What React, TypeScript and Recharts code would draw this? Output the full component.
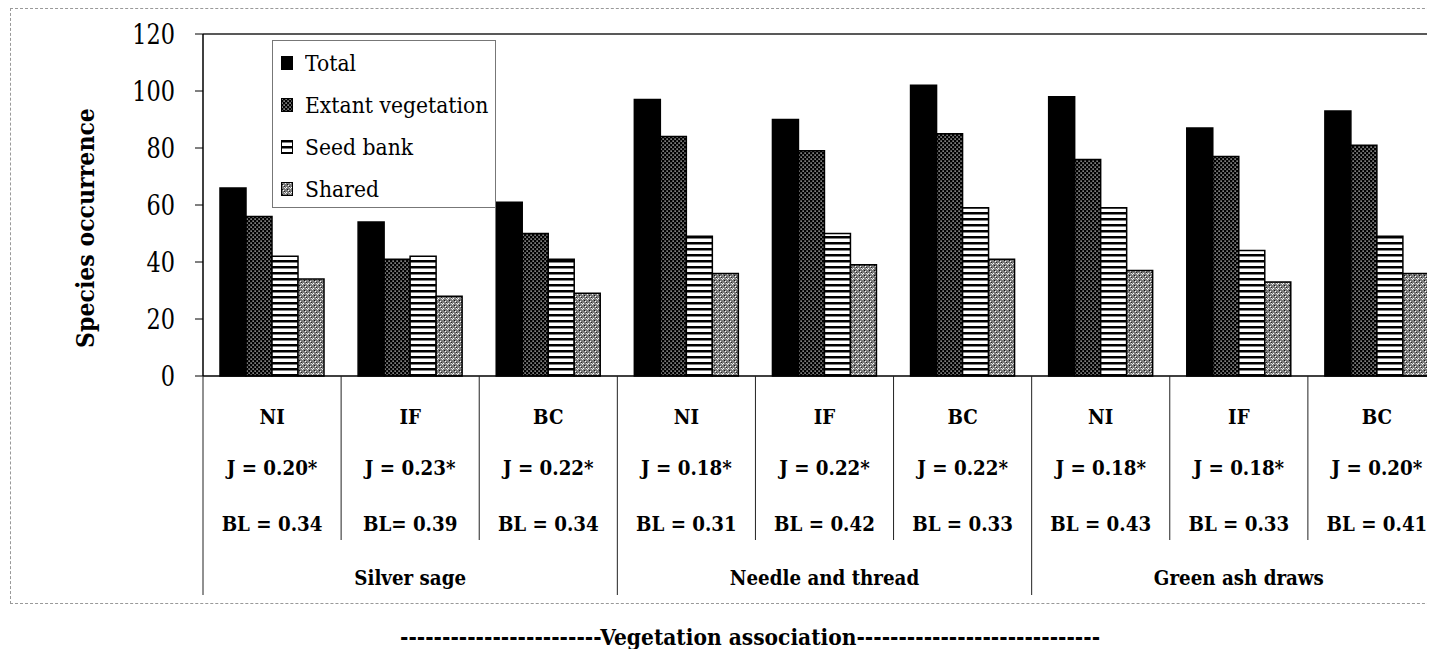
import React from "react";
import { BarChart, Bar, XAxis, YAxis, Legend, ReferenceLine, Label } from "recharts";

// categories and table rows under the axis
const treatments = ["NI", "IF", "BC", "NI", "IF", "BC", "NI", "IF", "BC"];
const jaccard = ["J = 0.20*", "J = 0.23*", "J = 0.22*", "J = 0.18*", "J = 0.22*", "J = 0.22*", "J = 0.18*", "J = 0.18*", "J = 0.20*"];
const bl = ["BL = 0.34", "BL= 0.39", "BL = 0.34", "BL = 0.31", "BL = 0.42", "BL = 0.33", "BL = 0.43", "BL = 0.33", "BL = 0.41"];
const associations = ["Silver sage", "Needle and thread", "Green ash draws"];

// series values (species occurrence)
const total = [66, 54, 61, 97, 90, 102, 98, 87, 93];
const extant = [56, 41, 50, 84, 79, 85, 76, 77, 81];
const seedBank = [42, 42, 41, 49, 50, 59, 59, 44, 49];
const shared = [34, 28, 29, 36, 39, 41, 37, 33, 36];

const yTicks = [0, 20, 40, 60, 80, 100, 120];

const series = [
  { key: "total", name: "Total", fill: "#000" },
  { key: "extant", name: "Extant vegetation", fill: "url(#pExtant)" },
  { key: "seedBank", name: "Seed bank", fill: "url(#pSeed)" },
  { key: "shared", name: "Shared", fill: "url(#pShared)" },
];

const data = treatments.map((t, i) => ({
  key: i,
  treatment: t,
  j: jaccard[i],
  bl: bl[i],
  group: associations[Math.floor(i / 3)],
  total: total[i],
  extant: extant[i],
  seedBank: seedBank[i],
  shared: shared[i],
}));

// only serif face available is DejaVu Serif; squeeze it horizontally to look like Times
const FONT = "'DejaVu Serif', serif";
const W = 1440;
const H = 640;
const MARGIN = { top: 26, right: 2, left: 75, bottom: 0 };
const Y_AXIS_W = 120;
const X_AXIS_H = 272;
const BAND = (W - MARGIN.left - MARGIN.right - Y_AXIS_W) / treatments.length;

function SText(props: any) {
  const { x, y, size, bold, sx, anchor = "middle", rotate = 0, children } = props;
  return (
    <text
      transform={`translate(${x}, ${y}) rotate(${rotate}) scale(${sx}, 1)`}
      textAnchor={anchor}
      dominantBaseline="central"
      fontFamily={FONT}
      fontWeight={bold ? 700 : 400}
      fontSize={size}
      fill="#000"
    >
      {children}
    </text>
  );
}

function CategoryTick(props: any) {
  const { x, y, payload } = props;
  const row = data[payload.value];
  if (!row) return null;
  const i = row.key;
  const left = x - BAND / 2;
  return (
    <g>
      <line x1={left} x2={left} y1={y} y2={y + (i % 3 === 0 ? 219 : 164)} stroke="#222" strokeWidth={1} />
      {i === treatments.length - 1 && (
        <line x1={x + BAND / 2} x2={x + BAND / 2} y1={y} y2={y + 219} stroke="#222" strokeWidth={1} />
      )}
      <SText x={x} y={y + 41} size={21} bold sx={0.87}>{row.treatment}</SText>
      <SText x={x} y={y + 92} size={21} bold sx={0.87}>{row.j}</SText>
      <SText x={x} y={y + 148} size={21} bold sx={0.87}>{row.bl}</SText>
      {i % 3 === 1 && (
        <SText x={x} y={y + 202} size={21} bold sx={0.87}>{row.group}</SText>
      )}
    </g>
  );
}

function ValueTick(props: any) {
  const { x, y, payload } = props;
  return (
    <SText x={x} y={y} size={28} sx={0.8} anchor="end">{payload.value}</SText>
  );
}

function YTitle(props: any) {
  const vb = props.viewBox || { x: 0, y: 0, width: 0, height: 0 };
  return (
    <SText x={vb.x + 2} y={vb.y + vb.height / 2 + 23} size={24} bold sx={0.92} rotate={-90}>
      Species occurrence
    </SText>
  );
}

function LegendBox() {
  return (
    <div
      style={{
        width: 224,
        height: 168,
        boxSizing: "border-box",
        border: "1px solid #777",
        background: "#fff",
        paddingTop: 1,
        fontFamily: FONT,
        fontSize: 23,
        color: "#000",
      }}
    >
      {series.map((s) => (
        <div key={s.key} style={{ height: 42, display: "flex", alignItems: "center", paddingLeft: 8 }}>
          <svg width={12} height={14} style={{ marginRight: 12, flex: "none" }}>
            <rect x={0.5} y={0.5} width={11} height={13} fill={s.fill} stroke="#000" strokeWidth={1} />
          </svg>
          <span style={{ display: "inline-block", whiteSpace: "nowrap", transform: "scaleX(0.885)", transformOrigin: "left center" }}>
            {s.name}
          </span>
        </div>
      ))}
    </div>
  );
}

export default function App() {
  return (
    <div style={{ position: "relative", width: 1427, height: 641, overflow: "hidden", background: "#fff" }}>
      <div
        style={{
          position: "absolute",
          left: 2,
          top: 0,
          width: 1460,
          height: 596,
          borderTop: "1px dashed #999",
          borderLeft: "1px dashed #999",
          borderBottom: "1px dashed #999",
          boxSizing: "border-box",
        }}
      />
      <BarChart
        width={W}
        height={H}
        data={data}
        margin={MARGIN}
        barCategoryGap={17}
        barGap={0}
        style={{ position: "absolute", left: 0, top: 0 }}
      >
        <defs>
          <pattern id="pExtant" width="4" height="4" patternUnits="userSpaceOnUse">
            <rect width="4" height="4" fill="#000" />
            <rect x="0.5" y="0.5" width="1.2" height="1.2" fill="#fff" />
            <rect x="2.5" y="2.5" width="1.2" height="1.2" fill="#fff" />
          </pattern>
          <pattern id="pSeed" width="6" height="6" patternUnits="userSpaceOnUse">
            <rect width="6" height="6" fill="#fff" />
            <rect y="0" width="6" height="2.5" fill="#000" />
          </pattern>
          <pattern id="pShared" width="5" height="5" patternUnits="userSpaceOnUse">
            <rect width="5" height="5" fill="#7d7d7d" />
            <rect x="0" y="0" width="1" height="1" fill="#fff" />
            <rect x="2" y="3" width="1" height="1" fill="#fff" />
            <rect x="4" y="1" width="1" height="1" fill="#eee" />
            <rect x="1" y="2" width="1" height="1" fill="#111" />
            <rect x="3" y="4" width="1" height="1" fill="#222" />
            <rect x="3" y="0" width="1" height="1" fill="#ddd" />
          </pattern>
        </defs>
        <XAxis
          dataKey="key"
          height={X_AXIS_H}
          axisLine={{ stroke: "#000", strokeWidth: 1.5 }}
          tickLine={false}
          tickSize={0}
          tickMargin={0}
          interval={0}
          tick={<CategoryTick />}
        />
        <YAxis
          width={Y_AXIS_W}
          domain={[0, 120]}
          ticks={yTicks}
          interval={0}
          axisLine={{ stroke: "#000", strokeWidth: 1.5 }}
          tickLine={{ stroke: "#000" }}
          tickSize={8}
          tickMargin={20}
          tick={<ValueTick />}
        >
          <Label content={<YTitle />} />
        </YAxis>
        <ReferenceLine y={120} stroke="#222" strokeWidth={1.5} />
        <Legend
          layout="vertical"
          align="center"
          verticalAlign="middle"
          wrapperStyle={{ left: 264, top: 32, width: 224, height: 168 }}
          content={<LegendBox />}
        />
        {series.map((s) => (
          <Bar
            key={s.key}
            dataKey={s.key}
            name={s.name}
            fill={s.fill}
            stroke="#000"
            strokeWidth={1.5}
            isAnimationActive={false}
          />
        ))}
      </BarChart>
      <div
        style={{
          position: "absolute",
          left: 392,
          top: 617,
          fontFamily: FONT,
          fontWeight: 700,
          fontSize: 23,
          lineHeight: "24px",
          whiteSpace: "nowrap",
          color: "#000",
          transform: "scaleX(0.88)",
          transformOrigin: "left center",
        }}
      >
        {"-".repeat(24) + "Vegetation association" + "-".repeat(29)}
      </div>
    </div>
  );
}
